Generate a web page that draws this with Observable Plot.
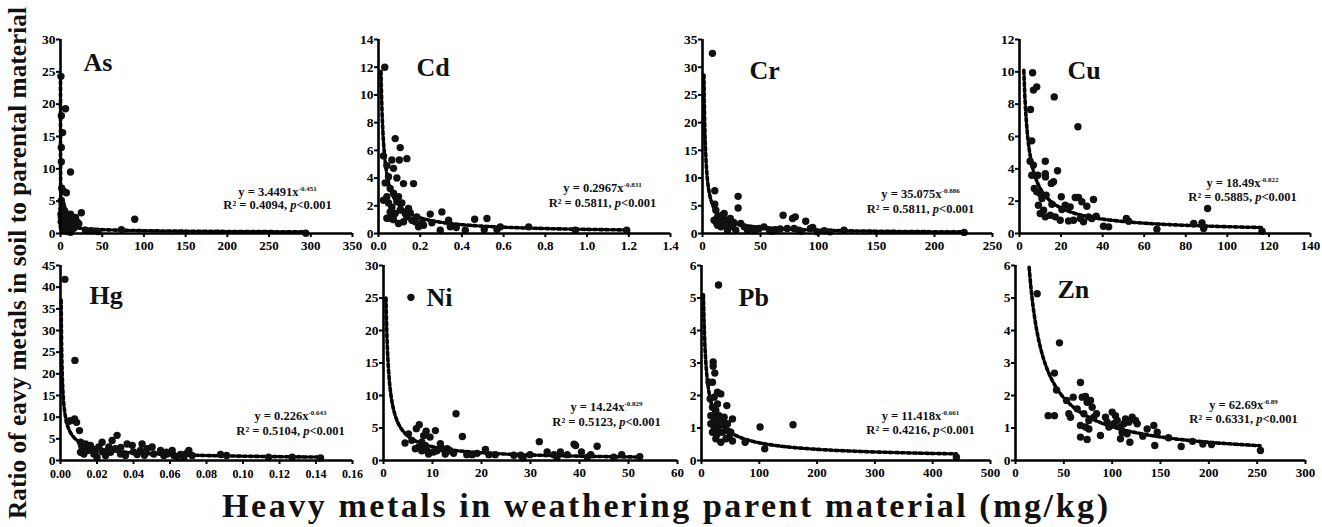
<!DOCTYPE html>
<html><head><meta charset="utf-8">
<script src="https://cdn.jsdelivr.net/npm/d3@7"></script>
<script src="https://cdn.jsdelivr.net/npm/@observablehq/plot@0.6"></script>
<style>
html,body{margin:0;padding:0;background:#fff;}
#chart{position:relative;width:1322px;height:527px;overflow:hidden;font-family:"Liberation Serif",serif;}
#chart > svg{position:absolute;}
#chart svg text{font-family:"Liberation Serif","Times New Roman",serif;}
</style></head><body><div id="chart"></div>
<script>
// ---------------- DATA ----------------
const elements = ["As","Cd","Cr","Cu","Hg","Ni","Pb","Zn"];

const asPts = [[0.5,24.3],[1,18.2],[6,19.3],[2.5,15.6],[1,13.3],[1,11.1],[12,9.5],[1.5,7],[4,6.5],[7,6.3],[1,5.1],[2,4.5],[3,4],[5,3.5],[0.5,3],[1,2.5],[2,2.8],[4,2.2],[6,1.8],[8,1.5],[10,2.5],[12,3],[15,1],[3,1.2],[5,0.8],[7,1],[9,0.5],[11,1.5],[14,2],[18,2.5],[20,1.8],[25,3.2],[22,1.5],[38,0.4],[73,0.6],[89,2.2],[294,0.05],[1.5,3.8],[3,2],[6,3],[9,2],[2,1],[4,0.6],[8,0.3],[16,0.8],[13,1.2],[0.8,1.8],[2.5,1.2],[12,0.2],[30,0.5],[45,0.3]];
const cdPts = [[0.03,12],[0.08,6.85],[0.104,6.2],[0.024,5.6],[0.064,5.3],[0.1,5.3],[0.136,5.4],[0.04,4.9],[0.072,4.7],[0.048,4.1],[0.088,4.0],[0.12,3.6],[0.168,3.6],[0.032,3.65],[0.056,3.25],[0.04,2.65],[0.072,2.9],[0.096,2.65],[0.048,2.2],[0.088,2.3],[0.112,2.2],[0.144,1.8],[0.152,1.5],[0.056,1.55],[0.08,1.45],[0.104,1.7],[0.128,1.45],[0.056,1.1],[0.072,1.0],[0.12,0.85],[0.184,1.2],[0.208,0.77],[0.192,0.48],[0.248,1.4],[0.256,0.77],[0.304,1.56],[0.296,0.24],[0.336,0.96],[0.344,0.48],[0.373,0.43],[0.416,0.24],[0.461,1.03],[0.52,1.08],[0.507,0.29],[0.568,0.29],[0.584,0.48],[0.72,0.48],[0.944,0.24],[1.19,0.24],[0.024,2.4],[0.064,1.9],[0.136,1.2],[0.16,0.96],[0.04,1.1],[0.096,0.72],[0.176,0.84],[0.216,0.6]];
const crPts = [[8.6,32.5],[10.6,7.7],[10.6,5.3],[11.5,4.2],[13,3],[10,2.4],[15.8,2.4],[18.7,3.6],[20,2.4],[23,1.8],[25.9,1.2],[30.7,6.7],[30.7,4.6],[33,1.8],[36,1.2],[43,0.9],[48.9,0.9],[53,1.2],[57.5,0.7],[63,0.7],[69.5,3.3],[73,0.9],[77.6,2.7],[80,3.0],[79,0.9],[83,0.6],[89,2.2],[93,0.9],[99,0.3],[105,0.5],[122,0.6],[225.6,0.2],[15.8,1.2],[21.5,0.6],[28.7,0.6],[38.8,0.6],[13,1.5],[17,3.3],[24,2.7],[12,2],[19,1.5],[27,2],[45,0.5],[60,0.4],[67,0.8],[85,0.4],[95,1.1],[110,0.3]];
const cuPts = [[6.3,9.94],[6.7,8.87],[8.3,9.07],[16.7,8.45],[5.3,7.67],[5.9,5.73],[28.1,6.6],[5.1,4.47],[6.7,4.23],[12.4,4.47],[18.3,3.88],[5.9,3.6],[8.8,3.6],[12.4,3.7],[12.5,3.5],[15.3,3.1],[16.4,3.2],[7.1,2.78],[8.3,2.58],[9.9,2.47],[10.8,2.16],[12.8,2.37],[20.1,2.27],[26.8,2.23],[28.4,2.23],[30,1.96],[35.6,2.1],[9.1,1.75],[11.6,1.44],[15.6,1.81],[20.4,1.48],[24.4,1.65],[32.4,1.69],[9.95,1.24],[12.4,1.03],[14.8,1.13],[17.2,1.03],[19.6,0.82],[23.6,0.78],[26,0.82],[29.3,0.93],[30.8,0.72],[33.2,1.03],[34.8,0.93],[36.9,1.07],[40.4,0.45],[42.9,0.41],[51.4,0.93],[52.5,0.76],[66.1,0.27],[83.8,0.62],[87.8,0.66],[88.6,0.31],[90.5,1.55],[116.7,0.14],[22,1.75]];
const hgPts = [[0.0024,41.8],[0.0079,23.1],[0.0055,9.2],[0.0077,9.6],[0.0088,8.8],[0.0042,9.0],[0.0104,6.9],[0.011,4.2],[0.0119,3.1],[0.011,1.9],[0.0137,3.8],[0.015,2.3],[0.0164,3.5],[0.0183,1.5],[0.021,3.1],[0.0228,4.2],[0.0247,1.15],[0.0265,3.1],[0.0283,4.6],[0.031,5.8],[0.0301,2.7],[0.0329,1.5],[0.0365,3.8],[0.0393,3.5],[0.042,1.4],[0.0447,3.8],[0.0475,2.7],[0.0511,1.5],[0.0548,2.3],[0.0584,1.5],[0.0621,1.15],[0.0658,1.4],[0.0703,2.3],[0.0721,1.15],[0.0877,1.4],[0.091,1.15],[0.114,0.77],[0.127,0.77],[0.1425,0.6],[0.0128,1.5],[0.02,0.77],[0.0274,1.9],[0.0356,1.15],[0.0438,2.3],[0.0502,3.1],[0.0566,1.15],[0.0612,2.3],[0.0676,0.77],[0.012,2.6],[0.017,2.8],[0.023,2.0],[0.033,3.0],[0.04,2.0],[0.046,1.2],[0.058,1.9],[0.064,0.9],[0.069,1.6],[0.0115,3.6],[0.019,1.9],[0.026,2.4]];
const niPts = [[5.6,25.1],[4.4,2.7],[5.1,4.1],[5.8,3.1],[6.7,4.9],[7.3,5.5],[8.2,3.8],[8.7,4.5],[10.6,4.6],[9.5,3.6],[7.2,2.1],[7.8,1.5],[8.9,1.5],[9.2,1.0],[10.9,1.5],[11.6,2.6],[12,1.8],[13,1.8],[13.6,1.5],[14.3,1.1],[14.8,7.2],[16.1,3.7],[17,0.9],[18.1,0.9],[19.1,1.1],[20.8,1.7],[21.5,0.9],[22.8,0.9],[26.6,0.8],[28,0.8],[28.5,0.4],[29.9,0.9],[31.8,2.9],[33.4,1.3],[34.8,0.9],[36.1,1.3],[35.4,0.5],[37.5,0.9],[38.9,2.5],[39.2,2.3],[40.4,1.3],[41.6,0.5],[42.3,0.9],[43.6,2.2],[47,0.5],[48.6,0.9],[52.3,0.6],[6.5,1.8],[8.5,2.3],[10.2,1.3],[12.6,1.0],[7.8,2.8]];
const pbPts = [[29.4,5.4],[13.2,2.41],[19,2.41],[20.2,3.03],[20.2,2.9],[23,2.69],[15,1.9],[21.9,1.95],[27.6,2.1],[33.4,2.05],[19,1.64],[27.6,1.74],[43.8,1.69],[16.1,1.38],[24.8,1.28],[53.6,1.28],[16.1,1.13],[21.9,1.03],[30.5,1.08],[36.3,1.18],[44.9,1.13],[19,0.87],[27.6,0.82],[36.3,0.87],[44.9,0.92],[50.7,0.87],[24.8,0.67],[33.4,0.56],[42.4,0.67],[53.6,0.6],[75.5,0.56],[101.4,1.03],[109.4,0.36],[158.4,1.1],[441,0.1],[21.9,1.23],[30.5,1.38],[39.2,1.33],[28.8,0.92],[47.8,0.72],[24.8,1.54]];
const znPts = [[22.4,5.13],[45.5,3.62],[40.3,2.69],[42.4,2.17],[33.8,1.38],[40.3,1.38],[52.8,1.85],[59.7,1.95],[55.2,1.44],[56.9,1.33],[63.8,1.59],[67.2,2.4],[69,1.95],[72.4,1.97],[74.1,1.79],[77.6,1.85],[79.3,1.64],[70.7,1.44],[75.9,1.23],[81,1.33],[83.8,1.44],[67.2,1.08],[72.4,1.03],[75.9,0.97],[67.2,0.72],[74.1,0.65],[87.9,0.77],[93.1,1.33],[94.8,1.18],[100,1.49],[103.4,1.38],[96.6,1.03],[101.7,1.13],[105.2,1.23],[108.6,1.03],[112.1,1.13],[113.8,1.28],[117.2,1.18],[120.7,1.33],[124.1,1.23],[125.9,1.13],[110.3,0.87],[115.5,0.82],[108.6,0.67],[118.3,0.56],[131.7,0.75],[136.2,0.97],[143.1,1.08],[146.6,0.87],[144.1,0.46],[158.3,0.7],[171.4,0.43],[183.1,0.59],[193.8,0.51],[202.8,0.49],[253.4,0.31]];
const allPts = [asPts, cdPts, crPts, cuPts, hgPts, niPts, pbPts, znPts];

// power-law fits y = a * x^b, as printed on the chart, drawn over the fitted x-range
const fitA = [3.4491, 0.2967, 35.075, 18.49, 0.226, 14.24, 11.418, 62.69];
const fitB = [-0.451, -0.831, -0.886, -0.822, -0.643, -0.829, -0.661, -0.89];
const fitXStart = [0.013, 0.012, 1.26, 2.09, 0.00036, 0.507, 3.39, 14.1];
const fitXEnd = [295, 1.19, 226, 117, 0.142, 52.3, 441, 253];

const equationTexts = ["y = 3.4491x^-0.451","y = 0.2967x^-0.831","y = 35.075x^-0.886","y = 18.49x^-0.822","y = 0.226x^-0.643","y = 14.24x^-0.829","y = 11.418x^-0.661","y = 62.69x^-0.89"];
const r2Texts = ["R² = 0.4094, p<0.001","R² = 0.5811, p<0.001","R² = 0.5811, p<0.001","R² = 0.5885, p<0.001","R² = 0.5104, p<0.001","R² = 0.5123, p<0.001","R² = 0.4216, p<0.001","R² = 0.6331, p<0.001"];

const xMax = [350, 1.4, 250, 140, 0.16, 60, 500, 300];
const yMax = [30, 14, 35, 12, 45, 30, 6, 6];
const asXTicks = [0,50,100,150,200,250,300,350];
const cdXTicks = [0,0.2,0.4,0.6,0.8,1.0,1.2,1.4];
const crXTicks = [0,50,100,150,200,250];
const cuXTicks = [0,20,40,60,80,100,120,140];
const hgXTicks = [0,0.02,0.04,0.06,0.08,0.10,0.12,0.14,0.16];
const niXTicks = [0,10,20,30,40,50,60];
const pbXTicks = [0,100,200,300,400,500];
const znXTicks = [0,50,100,150,200,250,300];
const asYTicks = [0,5,10,15,20,25,30];
const cdYTicks = [0,2,4,6,8,10,12,14];
const crYTicks = [0,5,10,15,20,25,30,35];
const cuYTicks = [0,2,4,6,8,10,12];
const hgYTicks = [0,5,10,15,20,25,30,35,40,45];
const niYTicks = [0,5,10,15,20,25,30];
const pbYTicks = [0,1,2,3,4,5,6];
const znYTicks = [0,1,2,3,4,5,6];
const xTicks = [asXTicks, cdXTicks, crXTicks, cuXTicks, hgXTicks, niXTicks, pbXTicks, znXTicks];
const yTicks = [asYTicks, cdYTicks, crYTicks, cuYTicks, hgYTicks, niYTicks, pbYTicks, znYTicks];
const xTickDigits = [0, 1, 0, 0, 2, 0, 0, 0];

const yTitle = "Ratio of eavy metals in soil to parental material";
const xTitle = "Heavy metals in weathering parent material (mg/kg)";

// ---------------- LAYOUT ----------------
const layout = [
  {ax:60,   top:39,  w:292, h:194, lab:[23,31], eq:[277,191,204], xfs:13, xpad:3},
  {ax:378,  top:39,  w:292, h:194, lab:[38,36], eq:[602,187,202], xfs:13, xpad:3},
  {ax:702,  top:39,  w:290, h:194, lab:[47,39], eq:[920,193,208], xfs:13, xpad:3},
  {ax:1019, top:39,  w:291, h:194, lab:[48,39], eq:[1242,182,196], xfs:13, xpad:3},
  {ax:60,   top:265, w:292, h:195, lab:[29,38], eq:[290,415,430], xfs:12, xpad:5},
  {ax:383,  top:265, w:294, h:195, lab:[43,40], eq:[606,406,421], xfs:13, xpad:3},
  {ax:701,  top:265, w:289, h:195, lab:[37,40], eq:[920,415,429], xfs:13, xpad:3},
  {ax:1015, top:265, w:290, h:195, lab:[42,32], eq:[1243,404,418], xfs:13, xpad:3}
];

const chart = document.getElementById("chart");
const mL = 40, mR = 24, mT = 12, mB = 28;
const FONT = "'Liberation Serif', 'Times New Roman', serif";
const NS = "http://www.w3.org/2000/svg";

elements.forEach((el, i) => {
  const L = layout[i];
  const a = fitA[i], b = fitB[i], xs = fitXStart[i], xe = fitXEnd[i];
  const curve = d3.range(0, 301).map(k => {
    const x = xs * Math.pow(xe / xs, k / 300);
    return [x, a * Math.pow(x, b)];
  });
  const fmt = d3.format("." + xTickDigits[i] + "f");
  const svg = Plot.plot({
    width: L.w + mL + mR, height: L.h + mT + mB,
    marginLeft: mL, marginRight: mR, marginTop: mT, marginBottom: mB,
    style: {fontFamily: FONT, fontWeight: "bold", fontSize: "13px", color: "#000", background: "transparent", overflow: "visible"},
    x: {domain: [0, xMax[i]]},
    y: {domain: [0, yMax[i]]},
    marks: [
      Plot.line(curve, {x: d => d[0], y: d => d[1], stroke: "#000", strokeWidth: 3.6, strokeDasharray: "3.2,2.8"}),
      Plot.dot(allPts[i], {x: d => d[0], y: d => d[1], r: 3.7, fill: "#111", stroke: "none"}),
      Plot.ruleX([0], {stroke: "#000", strokeWidth: 2.6}),
      Plot.ruleY([0], {stroke: "#000", strokeWidth: 2.6}),
      Plot.axisX({ticks: xTicks[i], tickFormat: fmt, tickSize: 4, tickPadding: L.xpad, strokeWidth: 2, label: null, fontSize: L.xfs, fontFamily: FONT, fontWeight: "bold"}),
      Plot.axisY({ticks: yTicks[i], tickFormat: d3.format("d"), tickSize: 4, tickPadding: 1, strokeWidth: 2, label: null, fontSize: 13.5, fontFamily: FONT, fontWeight: "bold"}),
      Plot.text([el], {text: d => d, frameAnchor: "top-left", dx: L.lab[0], dy: L.lab[1], textAnchor: "start", lineAnchor: "bottom", fontSize: 26, fontWeight: "bold", fontFamily: FONT, fill: "#111"}),
      Plot.text([equationTexts[i]], {text: d => d, frameAnchor: "top-left", dx: L.eq[0] - L.ax, dy: L.eq[1] - L.top, textAnchor: "middle", lineAnchor: "middle", fontSize: 12.5, fontWeight: "bold", fontFamily: FONT, fill: "#111"}),
      Plot.text([r2Texts[i]], {text: d => d, frameAnchor: "top-left", dx: L.eq[0] - L.ax, dy: L.eq[2] - L.top, textAnchor: "middle", lineAnchor: "middle", fontSize: 12.5, fontWeight: "bold", fontFamily: FONT, fill: "#111"})
    ]
  });
  svg.querySelectorAll("text").forEach(t => {
    const s = t.textContent;
    if (s.includes("^")) {
      const [base, exp] = s.split("^");
      t.textContent = base;
      const ts = document.createElementNS(NS, "tspan");
      ts.setAttribute("font-size", "7");
      ts.setAttribute("dy", "-5");
      ts.textContent = exp;
      t.appendChild(ts);
    } else if (s.includes("p<")) {
      const idx = s.indexOf("p<");
      t.textContent = s.slice(0, idx);
      const ti = document.createElementNS(NS, "tspan");
      ti.setAttribute("font-style", "italic");
      ti.textContent = "p";
      t.appendChild(ti);
      t.appendChild(document.createTextNode(s.slice(idx + 1)));
    }
  });
  svg.style.left = (L.ax - mL) + "px";
  svg.style.top = (L.top - mT) + "px";
  chart.appendChild(svg);
});

// ---------------- AXIS TITLES ----------------
const ov = document.createElementNS(NS, "svg");
ov.setAttribute("width", 1322); ov.setAttribute("height", 527);
ov.style.left = "0px"; ov.style.top = "0px"; ov.style.position = "absolute"; ov.style.pointerEvents = "none";
const xt = document.createElementNS(NS, "text");
xt.setAttribute("x", 665); xt.setAttribute("y", 517);
xt.setAttribute("text-anchor", "middle");
xt.setAttribute("font-family", FONT); xt.setAttribute("font-weight", "bold"); xt.setAttribute("font-size", 34);
xt.setAttribute("textLength", 886); xt.setAttribute("lengthAdjust", "spacing");
xt.setAttribute("fill", "#111");
xt.textContent = xTitle;
ov.appendChild(xt);
const yt = document.createElementNS(NS, "text");
yt.setAttribute("transform", "translate(26,263) rotate(-90)");
yt.setAttribute("text-anchor", "middle");
yt.setAttribute("font-family", FONT); yt.setAttribute("font-weight", "bold"); yt.setAttribute("font-size", 25.2);
yt.setAttribute("textLength", 512); yt.setAttribute("lengthAdjust", "spacing");
yt.setAttribute("fill", "#111");
yt.textContent = yTitle;
ov.appendChild(yt);
chart.appendChild(ov);
</script>
</body></html>
